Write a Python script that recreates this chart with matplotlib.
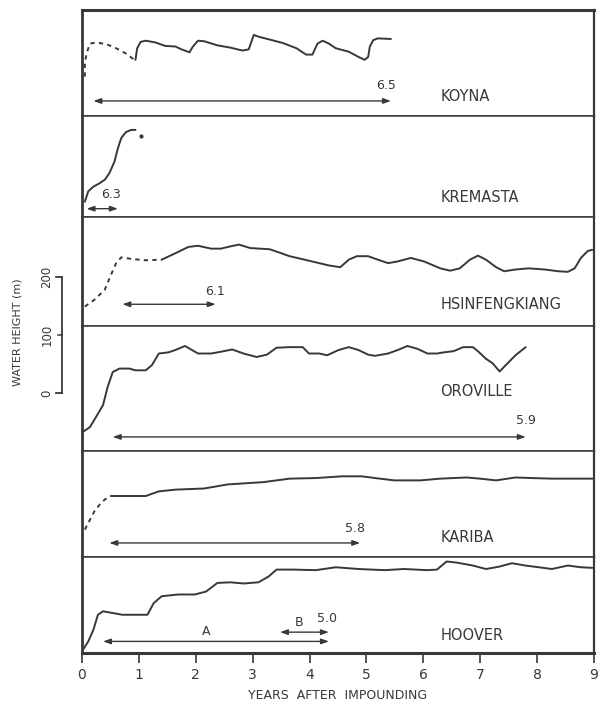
import matplotlib
matplotlib.use("Agg")
import matplotlib.pyplot as plt
import matplotlib.transforms as mtransforms

INK = "#383838"

# panel names, top to bottom
dams = ["KOYNA", "KREMASTA", "HSINFENGKIANG", "OROVILLE", "KARIBA", "HOOVER"]
# visible height of each panel in metres (same vertical scale everywhere)
panel_heights = [183, 174, 188, 216, 183, 166]

# --- water level curves (years after impounding, metres above panel base)
koyna_dash_yr = [0.05, 0.05, 0.08, 0.14, 0.25, 0.43, 0.60, 0.77, 0.92]
koyna_dash_m = [68, 91, 108, 125, 127, 124, 117, 108, 97]
koyna_yr = [0.94, 0.97, 1.03, 1.12, 1.29, 1.46, 1.64, 1.75, 1.89, 1.95, 2.04,
            2.15, 2.38, 2.61, 2.82, 2.93, 3.02, 3.10, 3.30, 3.53, 3.77, 3.94,
            4.05, 4.14, 4.23, 4.34, 4.46, 4.69, 4.86, 4.97, 5.03, 5.06, 5.12,
            5.20, 5.43]
koyna_m = [97, 117, 128, 130, 127, 121, 120, 115, 110, 120, 130,
           129, 122, 118, 113, 115, 140, 137, 132, 126, 117, 106,
           106, 125, 130, 125, 117, 111, 102, 97, 102, 120, 131,
           134, 133]

kremasta_yr = [0.05, 0.11, 0.20, 0.31, 0.40, 0.48, 0.57, 0.63, 0.69, 0.77,
               0.86, 0.94]
kremasta_m = [26, 44, 52, 58, 64, 75, 95, 118, 136, 146, 150, 150]

hsin_dash_yr = [0.05, 0.22, 0.40, 0.51, 0.60, 0.69, 0.89, 1.12, 1.40]
hsin_dash_m = [33, 45, 62, 88, 108, 118, 115, 113, 114]
hsin_yr = [1.40, 1.64, 1.87, 2.04, 2.27, 2.44, 2.61, 2.76, 2.96, 3.30, 3.65,
           4.00, 4.34, 4.54, 4.69, 4.83, 5.03, 5.20, 5.38, 5.55, 5.78, 6.01,
           6.30, 6.47, 6.64, 6.82, 6.96, 7.10, 7.28, 7.42, 7.62, 7.85, 8.14,
           8.37, 8.54, 8.66, 8.77, 8.89, 8.97]
hsin_m = [114, 125, 136, 138, 133, 133, 137, 140, 134, 132, 120,
          112, 104, 101, 114, 120, 120, 114, 108, 111, 117, 111,
          99, 95, 99, 114, 121, 114, 101, 94, 97, 99, 97,
          94, 93, 99, 117, 129, 131]

oroville_yr = [0.02, 0.14, 0.25, 0.37, 0.45, 0.54, 0.66, 0.83, 0.94, 1.12,
               1.23, 1.35, 1.52, 1.64, 1.81, 2.04, 2.27, 2.44, 2.64, 2.84,
               3.07, 3.25, 3.42, 3.65, 3.88, 3.99, 4.17, 4.31, 4.51, 4.69,
               4.86, 5.03, 5.15, 5.38, 5.55, 5.72, 5.90, 6.07, 6.24, 6.36,
               6.53, 6.70, 6.87, 6.96, 7.10, 7.22, 7.34, 7.45, 7.62, 7.80]
oroville_m = [33, 41, 59, 79, 110, 136, 142, 142, 139, 139,
              148, 168, 170, 174, 181, 168, 168, 171, 175, 168,
              162, 166, 178, 179, 179, 168, 168, 165, 174, 179,
              174, 166, 164, 168, 174, 181, 176, 168, 168, 170,
              172, 179, 179, 172, 159, 151, 137, 148, 165, 179]

kariba_dash_yr = [0.05, 0.14, 0.22, 0.31, 0.40, 0.51]
kariba_dash_m = [47, 64, 79, 90, 99, 105]
kariba_yr = [0.51, 0.83, 1.12, 1.35, 1.64, 2.15, 2.56, 3.19, 3.65, 4.11,
             4.57, 4.92, 5.15, 5.49, 5.95, 6.30, 6.76, 6.99, 7.28, 7.62,
             7.91, 8.26, 8.60, 8.97]
kariba_m = [105, 105, 105, 113, 116, 118, 125, 129, 135, 136,
            139, 139, 136, 132, 132, 135, 137, 135, 132, 137,
            136, 135, 135, 135]

hoover_yr = [0.02, 0.11, 0.20, 0.28, 0.37, 0.54, 0.71, 0.94, 1.15, 1.26,
             1.40, 1.69, 1.98, 2.18, 2.38, 2.61, 2.84, 3.10, 3.28, 3.42,
             3.71, 4.11, 4.46, 4.86, 5.32, 5.66, 6.07, 6.24, 6.41, 6.59,
             6.87, 7.10, 7.33, 7.56, 7.79, 8.03, 8.26, 8.54, 8.77, 8.97]
hoover_m = [6, 20, 40, 66, 72, 69, 66, 66, 66, 86,
            98, 101, 101, 106, 121, 122, 120, 122, 132, 144,
            144, 143, 148, 145, 143, 145, 143, 144, 158, 156,
            151, 145, 149, 155, 151, 148, 145, 151, 148, 147]

# --- delay spans (start year, end year) and event magnitudes
koyna_span = (0.20, 5.43)
kremasta_span = (0.08, 0.63)
hsin_span = (0.71, 2.35)
oroville_span = (0.54, 7.80)
kariba_span = (0.48, 4.89)
hoover_span_a = (0.37, 4.34)
hoover_span_b = (3.48, 4.34)
magnitudes = ["6.5", "6.3", "6.1", "5.9", "5.8", "5.0"]

LEFT_PX, RIGHT_PX = 82, 594
W_PX = RIGHT_PX - LEFT_PX

fig = plt.figure(figsize=(6.02, 7.09), dpi=100)
gs = fig.add_gridspec(len(dams), 1, height_ratios=panel_heights, hspace=0,
                      left=LEFT_PX / 602, right=RIGHT_PX / 602,
                      top=1 - 10 / 709, bottom=1 - 653 / 709)
axes = [fig.add_subplot(gs[i]) for i in range(len(dams))]

for i, ax in enumerate(axes):
    ax.set_xlim(0, 9)
    ax.set_ylim(0, panel_heights[i])
    ax.set_yticks([])
    for side in ["left", "right", "top", "bottom"]:
        ax.spines[side].set_color(INK)
        ax.spines[side].set_linewidth(1.1)
    ax.spines["left"].set_linewidth(2.0)
    ax.spines["right"].set_linewidth(1.6)
    if i < len(dams) - 1:
        ax.set_xticks([])
axes[0].spines["top"].set_linewidth(2.2)
axes[-1].spines["bottom"].set_linewidth(2.2)

line_kw = dict(color=INK, lw=1.4, solid_capstyle="round",
               solid_joinstyle="round")
dash_kw = dict(color=INK, lw=1.4, ls=(0, (2.2, 2.2)))

axes[0].plot(koyna_dash_yr, koyna_dash_m, **dash_kw)
axes[0].plot(koyna_yr, koyna_m, **line_kw)
axes[1].plot(kremasta_yr, kremasta_m, **line_kw)
axes[1].plot([1.03], [140], "o", color=INK, ms=2)
axes[2].plot(hsin_dash_yr, hsin_dash_m, **dash_kw)
axes[2].plot(hsin_yr, hsin_m, **line_kw)
axes[3].plot(oroville_yr, oroville_m, **line_kw)
axes[4].plot(kariba_dash_yr, kariba_dash_m, **dash_kw)
axes[4].plot(kariba_yr, kariba_m, **line_kw)
axes[5].plot(hoover_yr, hoover_m, **line_kw)

arrow_kw = dict(arrowstyle="<|-|>,head_length=0.45,head_width=0.16",
                color=INK, lw=1.0, shrinkA=0, shrinkB=0)


def span_arrow(ax, span, y):
    ax.annotate("", xy=(span[1], y), xytext=(span[0], y), arrowprops=arrow_kw)


num_kw = dict(fontsize=9, color=INK, ha="center", va="center")

span_arrow(axes[0], koyna_span, 26)
axes[0].text(5.35, 53, magnitudes[0], **num_kw)
span_arrow(axes[1], kremasta_span, 14)
axes[1].text(0.51, 39, magnitudes[1], **num_kw)
span_arrow(axes[2], hsin_span, 37)
axes[2].text(2.33, 59, magnitudes[2], **num_kw)
span_arrow(axes[3], oroville_span, 24)
axes[3].text(7.80, 52, magnitudes[3], **num_kw)
span_arrow(axes[4], kariba_span, 24)
axes[4].text(4.80, 49, magnitudes[4], **num_kw)
span_arrow(axes[5], hoover_span_a, 20)
span_arrow(axes[5], hoover_span_b, 36)
axes[5].text(2.18, 37, "A", **num_kw)
axes[5].text(3.82, 53, "B", **num_kw)
axes[5].text(4.31, 59, magnitudes[5], **num_kw)

# dam names
name_y = [33, 34, 36, 102, 34, 31]
for ax, name, y in zip(axes, dams, name_y):
    ax.text(6.3, y, name, fontsize=10.5, color=INK, ha="left", va="center")

# x axis
ax = axes[-1]
ax.set_xticks(range(10))
ax.tick_params(axis="x", direction="out", length=7, width=1.2, color=INK,
               labelsize=10, labelcolor=INK, pad=4)
ax.set_xlabel("YEARS  AFTER  IMPOUNDING", fontsize=9, color=INK, labelpad=5)

# vertical scale bar, drawn against the Oroville panel's metre scale
oro = axes[3]
tr = mtransforms.blended_transform_factory(oro.transAxes, oro.transData)
bar_x = (62 - LEFT_PX) / W_PX
tick_x = (56 - LEFT_PX) / W_PX
oro.plot([bar_x, bar_x], [100, 300], color=INK, lw=1.3, transform=tr,
         clip_on=False)
for yy in [100, 300]:
    oro.plot([tick_x, bar_x], [yy, yy], color=INK, lw=1.3, transform=tr,
             clip_on=False)
oro.plot([(58 - LEFT_PX) / W_PX, bar_x], [200, 200], color=INK, lw=1.1,
         transform=tr, clip_on=False)
for yy, lab in zip([100, 200, 300], ["0", "100", "200"]):
    oro.text((47 - LEFT_PX) / W_PX, yy, lab, rotation=90, fontsize=8.5,
             color=INK, ha="center", va="center", transform=tr, clip_on=False)
oro.text((18 - LEFT_PX) / W_PX, 205, "WATER HEIGHT (m)", rotation=90,
         fontsize=8, color=INK, ha="center", va="center", transform=tr,
         clip_on=False)

fig.savefig("out.png", dpi=100)
